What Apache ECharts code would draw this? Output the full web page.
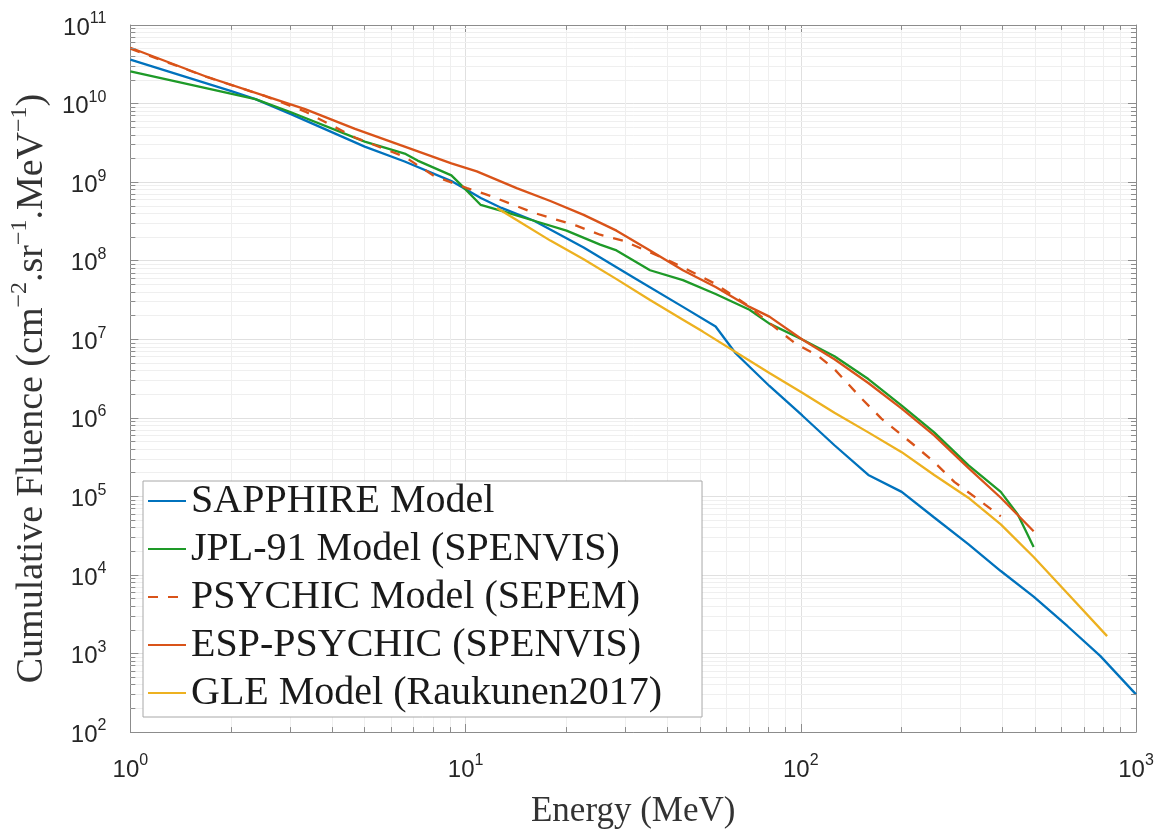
<!DOCTYPE html>
<html><head><meta charset="utf-8">
<script src="https://cdn.jsdelivr.net/npm/echarts@6/dist/echarts.min.js"></script>
<style>html,body{margin:0;padding:0;background:#fff}#c{width:1159px;height:834px}</style>
</head><body><div id="c"></div>
<script>
// ---- data ----
const seriesNames = ['SAPPHIRE Model', 'JPL-91 Model (SPENVIS)', 'PSYCHIC Model (SEPEM)', 'ESP-PSYCHIC (SPENVIS)', 'GLE Model (Raukunen2017)'];

const sapphireEnergy = [1, 2, 2.36, 3, 5, 6.58, 9.07, 11.1, 12.8, 16, 22.5, 31.6, 44.5, 55.7, 63.9, 80.6, 101, 126, 159, 200, 250, 316, 395, 495, 625, 782, 1000];
const sapphireFluence = [3.63e10, 1.44e10, 1.14e10, 7.4e9, 2.83e9, 1.83e9, 1.03e9, 6.27e8, 4.69e8, 3.22e8, 1.47e8, 6.17e7, 2.58e7, 1.45e7, 6.62e6, 2.54e6, 1.07e6, 4.47e5, 1.87e5, 1.14e5, 5.38e4, 2.46e4, 1.12e4, 5.3e3, 2.22e3, 931, 301];

const jplEnergy = [1, 1.68, 2.36, 3, 5, 6.58, 7.19, 9.07, 9.71, 11.1, 12.8, 16, 20, 25.2, 28.2, 35.5, 44.5, 55.7, 70.3, 80.6, 101, 126, 159, 200, 250, 316, 395, 444, 495];
const jplFluence = [2.56e10, 1.57e10, 1.14e10, 7.8e9, 3.27e9, 2.31e9, 1.88e9, 1.22e9, 9.14e8, 5.12e8, 4.3e8, 3.22e8, 2.41e8, 1.6e8, 1.35e8, 7.55e7, 5.65e7, 3.77e7, 2.37e7, 1.58e7, 9.9e6, 6.07e6, 3.11e6, 1.43e6, 6.52e5, 2.5e5, 1.14e5, 5.87e4, 2.26e4];

const psychicEnergy = [1, 1.68, 2.53, 3.32, 4.68, 6.58, 8.07, 10.1, 11.9, 16, 21.4, 25.2, 29.5, 33.9, 39.6, 44.5, 55.7, 68.4, 96.2, 113, 126, 152, 174, 218, 250, 287, 345, 395];
const psychicFluence = [5.0e10, 2.2e10, 1.24e10, 7.9e9, 3.7e9, 2.1e9, 1.19e9, 8.38e8, 6.64e8, 4.06e8, 2.79e8, 2.14e8, 1.8e8, 1.39e8, 1.04e8, 8.24e7, 5.04e7, 2.82e7, 8.85e6, 6.07e6, 4.16e6, 1.75e6, 9.77e5, 4.47e5, 2.73e5, 1.53e5, 8.55e4, 5.55e4];

const espEnergy = [1, 1.68, 2.53, 3.32, 4.68, 6.58, 9.07, 10.8, 14.2, 17.9, 22.5, 28.2, 35.5, 44.5, 55.7, 70.3, 80.6, 101, 126, 159, 200, 250, 316, 395, 495];
const espFluence = [5.13e10, 2.21e10, 1.24e10, 8.51e9, 4.76e9, 2.83e9, 1.73e9, 1.37e9, 8.38e8, 5.74e8, 3.83e8, 2.41e8, 1.35e8, 7.55e7, 4.62e7, 2.58e7, 1.94e7, 9.9e6, 5.56e6, 2.77e6, 1.31e6, 5.97e5, 2.3e5, 9.6e4, 3.59e4];

const gleEnergy = [12.4, 14.2, 17.9, 22.5, 28.2, 35.5, 44.5, 51, 80.6, 101, 126, 159, 200, 250, 316, 395, 495, 625, 820];
const gleFluence = [4.69e8, 3.3e8, 1.8e8, 1.04e8, 5.82e7, 3.16e7, 1.77e7, 1.25e7, 3.71e6, 2.08e6, 1.16e6, 6.52e5, 3.65e5, 1.87e5, 9.6e4, 4.4e4, 1.69e4, 5.78e3, 1.66e3];

const xMin = 1, xMax = 1000, yMin = 1e2, yMax = 1e11;
const xDecades = [1, 10, 100];
const yDecades = [1e2, 1e3, 1e4, 1e5, 1e6, 1e7, 1e8, 1e9, 1e10];
const minorMultipliers = [2, 3, 4, 5, 6, 7, 8, 9];

// ---- helpers ----
const pairs = (xs, ys) => xs.map((x, i) => [x, ys[i]]);
const xMinor = [].concat(...xDecades.map(d => minorMultipliers.map(m => m * d)));
const yMinor = [].concat(...yDecades.map(d => minorMultipliers.map(m => m * d)));

const colors = ['#0072BD', '#1E9A28', '#D95319', '#D95319', '#EDB120'];
const axisGray = '#8c8c8c';
const serif = 'Liberation Serif';
const sans = 'Liberation Sans';

const tickRich = {
  b: {fontFamily: sans, fontSize: 24, lineHeight: 34, color: '#262626'},
  s: {fontFamily: sans, fontSize: 16, lineHeight: 12, verticalAlign: 'top', color: '#262626'}
};
const powFmt = v => '{b|10}{s|' + Math.round(Math.log10(v)) + '}';

// minor tick segments (inside the box on all four sides)
const fy = Math.pow(10, 5 / 79.4), fx = Math.pow(10, 5 / 337.3);
const minorTickSegs = [];
xMinor.forEach(v => {
  minorTickSegs.push([{coord: [v, yMin]}, {coord: [v, yMin * fy]}]);
  minorTickSegs.push([{coord: [v, yMax]}, {coord: [v, yMax / fy]}]);
});
yMinor.forEach(v => {
  minorTickSegs.push([{coord: [xMin, v]}, {coord: [xMin * fx, v]}]);
  minorTickSegs.push([{coord: [xMax, v]}, {coord: [xMax / fx, v]}]);
});

const mkSeries = (name, xs, ys, color, dashed) => ({
  name, type: 'line', data: pairs(xs, ys), xAxisIndex: 0, yAxisIndex: 0,
  symbol: 'none', showSymbol: false, smooth: false, z: 5,
  lineStyle: {color, width: 2.3, type: dashed ? [10, 10] : 'solid'},
  itemStyle: {color}, animation: false
});

const chart = echarts.init(document.getElementById('c'), null, {renderer: 'canvas'});
chart.setOption({
  backgroundColor: '#fff',
  animation: false,
  grid: {left: 124, right: 23, top: 25, bottom: 94, containLabel: false},
  legend: {
    data: seriesNames, orient: 'vertical', left: 143, top: 481, z: 30,
    itemWidth: 38, itemHeight: 14, itemGap: 8,
    padding: [0, 40, 4, 4],
    backgroundColor: '#fff', borderColor: '#a8a8a8', borderWidth: 1,
    itemStyle: {opacity: 0},
    textStyle: {fontFamily: serif, fontSize: 40, lineHeight: 40, color: '#1a1a1a'}
  },
  xAxis: [{
    type: 'log', logBase: 10, min: xMin, max: xMax, splitNumber: 5, position: 'bottom',
    name: 'Energy (MeV)', nameLocation: 'middle', nameGap: 62,
    nameTextStyle: {fontFamily: serif, fontSize: 35, color: '#333'},
    axisLine: {show: true, onZero: false, lineStyle: {color: axisGray, width: 1}},
    axisTick: {show: true, inside: true, length: 8, lineStyle: {color: axisGray}},
    axisLabel: {show: true, margin: 21, formatter: powFmt, rich: tickRich},
    splitLine: {show: true, lineStyle: {color: '#e0e0e0', width: 1}}
  }, {
    type: 'log', logBase: 10, min: xMin, max: xMax, splitNumber: 5, position: 'top',
    axisLine: {show: true, onZero: false, lineStyle: {color: axisGray, width: 1}},
    axisTick: {show: true, inside: true, length: 8, lineStyle: {color: axisGray}},
    axisLabel: {show: false}, splitLine: {show: false}
  }],
  yAxis: [{
    type: 'log', logBase: 10, min: yMin, max: yMax, splitNumber: 10, position: 'left',
    name: '{b|Cumulative Fluence (cm}{s|\u22122}{b|.sr}{s|\u22121}{b|.MeV}{s|\u22121}{b|)}',
    nameLocation: 'middle', nameGap: 72, nameRotate: 90,
    nameTextStyle: {
      padding: [0, 20, 0, 0],
      rich: {
        b: {fontFamily: serif, fontSize: 38, lineHeight: 48, color: '#333'},
        s: {fontFamily: serif, fontSize: 24, lineHeight: 20, verticalAlign: 'top', color: '#333'}
      }
    },
    axisLine: {show: true, onZero: false, lineStyle: {color: axisGray, width: 1}},
    axisTick: {show: true, inside: true, length: 8, lineStyle: {color: axisGray}},
    axisLabel: {show: true, margin: 24, padding: [6, 0, 0, 0], formatter: powFmt, rich: tickRich},
    splitLine: {show: true, lineStyle: {color: '#e0e0e0', width: 1}}
  }, {
    type: 'log', logBase: 10, min: yMin, max: yMax, splitNumber: 10, position: 'right',
    axisLine: {show: true, onZero: false, lineStyle: {color: axisGray, width: 1}},
    axisTick: {show: true, inside: true, length: 8, lineStyle: {color: axisGray}},
    axisLabel: {show: false}, splitLine: {show: false}
  }],
  series: [
    {
      name: 'minor-grid', type: 'line', data: [[xMin, yMin]], symbol: 'none', z: 1, silent: true,
      lineStyle: {width: 0}, animation: false,
      markLine: {
        z: 1, silent: true, symbol: ['none', 'none'], label: {show: false}, animation: false,
        lineStyle: {color: '#efefef', width: 1, type: 'solid'},
        emphasis: {disabled: true},
        data: xMinor.map(v => ({xAxis: v})).concat(yMinor.map(v => ({yAxis: v})))
      }
    },
    {
      name: 'minor-ticks', type: 'line', data: [[xMin, yMin]], symbol: 'none', z: 6, silent: true,
      lineStyle: {width: 0}, animation: false,
      markLine: {
        z: 6, silent: true, symbol: ['none', 'none'], label: {show: false}, animation: false,
        lineStyle: {color: axisGray, width: 1, type: 'solid'},
        emphasis: {disabled: true},
        data: minorTickSegs
      }
    },
    mkSeries(seriesNames[0], sapphireEnergy, sapphireFluence, colors[0], false),
    mkSeries(seriesNames[1], jplEnergy, jplFluence, colors[1], false),
    mkSeries(seriesNames[2], psychicEnergy, psychicFluence, colors[2], true),
    mkSeries(seriesNames[3], espEnergy, espFluence, colors[3], false),
    mkSeries(seriesNames[4], gleEnergy, gleFluence, colors[4], false)
  ]
});
</script>
</body></html>
